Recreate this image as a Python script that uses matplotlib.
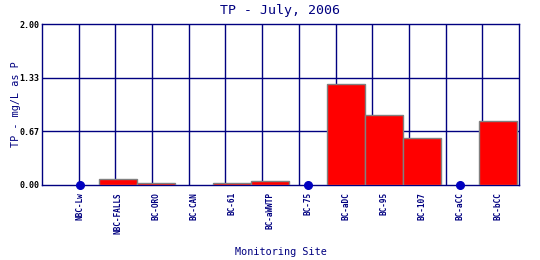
import matplotlib
matplotlib.use("Agg")
import matplotlib.pyplot as plt
import numpy as np

sites = ["NBC-Lw", "NBC-FALLS", "BC-ORO", "BC-CAN", "BC-61", "BC-aWWTP",
         "BC-75", "BC-aDC", "BC-95", "BC-107", "BC-aCC", "BC-bCC"]
# bar values (mg/L as P); None = no bar
bar_values = [None, 0.07, 0.02, None, 0.02, 0.045, None, 1.25, 0.87, 0.59, None, 0.80]
# sites shown as a dot at zero
dot_sites = ["NBC-Lw", "BC-75", "BC-aCC"]
dot_values = [0.0, 0.0, 0.0]
y_ticks = [0.0, 0.67, 1.33, 2.0]
y_tick_labels = ["0.00", "0.67", "1.33", "2.00"]

navy = "#000080"
plt.rcParams['font.family'] = ['DejaVu Sans Mono']

fig = plt.figure(figsize=(5.4, 2.6), dpi=100)
ax = fig.add_axes([42/540, 75/260, 477/540, 161/260])

x = np.arange(1, len(sites) + 1)
bx = [xi for xi, v in zip(x, bar_values) if v is not None]
bv = [v for v in bar_values if v is not None]
ax.bar(bx, bv, width=1.0, color="#ff0000", edgecolor="#808080", linewidth=1.0, zorder=3)

dx = [x[sites.index(s)] for s in dot_sites]
ax.plot(dx, dot_values, "o", color="#0000c0", markersize=5.5, zorder=4, clip_on=False)

xmax = 12.55
ax.set_xlim(0, xmax)
ax.set_ylim(0, 2.0)

# vertical grid lines (13 equal intervals)
for gx in np.linspace(0, xmax, 14)[1:-1]:
    ax.axvline(gx, color=navy, linewidth=1.0, zorder=1)
for gy in y_ticks[1:-1]:
    ax.axhline(gy, color=navy, linewidth=1.0, zorder=1)

ax.set_yticks(y_ticks)
ax.set_yticklabels(y_tick_labels, fontsize=6, color="black", fontweight="bold")
ax.set_xticks(x)
ax.set_xticklabels(sites, rotation=90, fontsize=5.6, color=navy, fontweight="bold")
ax.tick_params(axis="both", length=0, pad=2)
ax.tick_params(axis="x", pad=5)

for sp in ax.spines.values():
    sp.set_color(navy)
    sp.set_linewidth(1.0)

ax.set_title("TP - July, 2006", fontsize=9.5, color=navy, pad=7)
ax.set_ylabel("TP - mg/L as P", fontsize=7.3, color=navy)
ax.yaxis.set_label_coords(-0.045, 0.5)
ax.set_xlabel("Monitoring Site", fontsize=7.3, color=navy, labelpad=10)

fig.savefig("out.png", dpi=100)
